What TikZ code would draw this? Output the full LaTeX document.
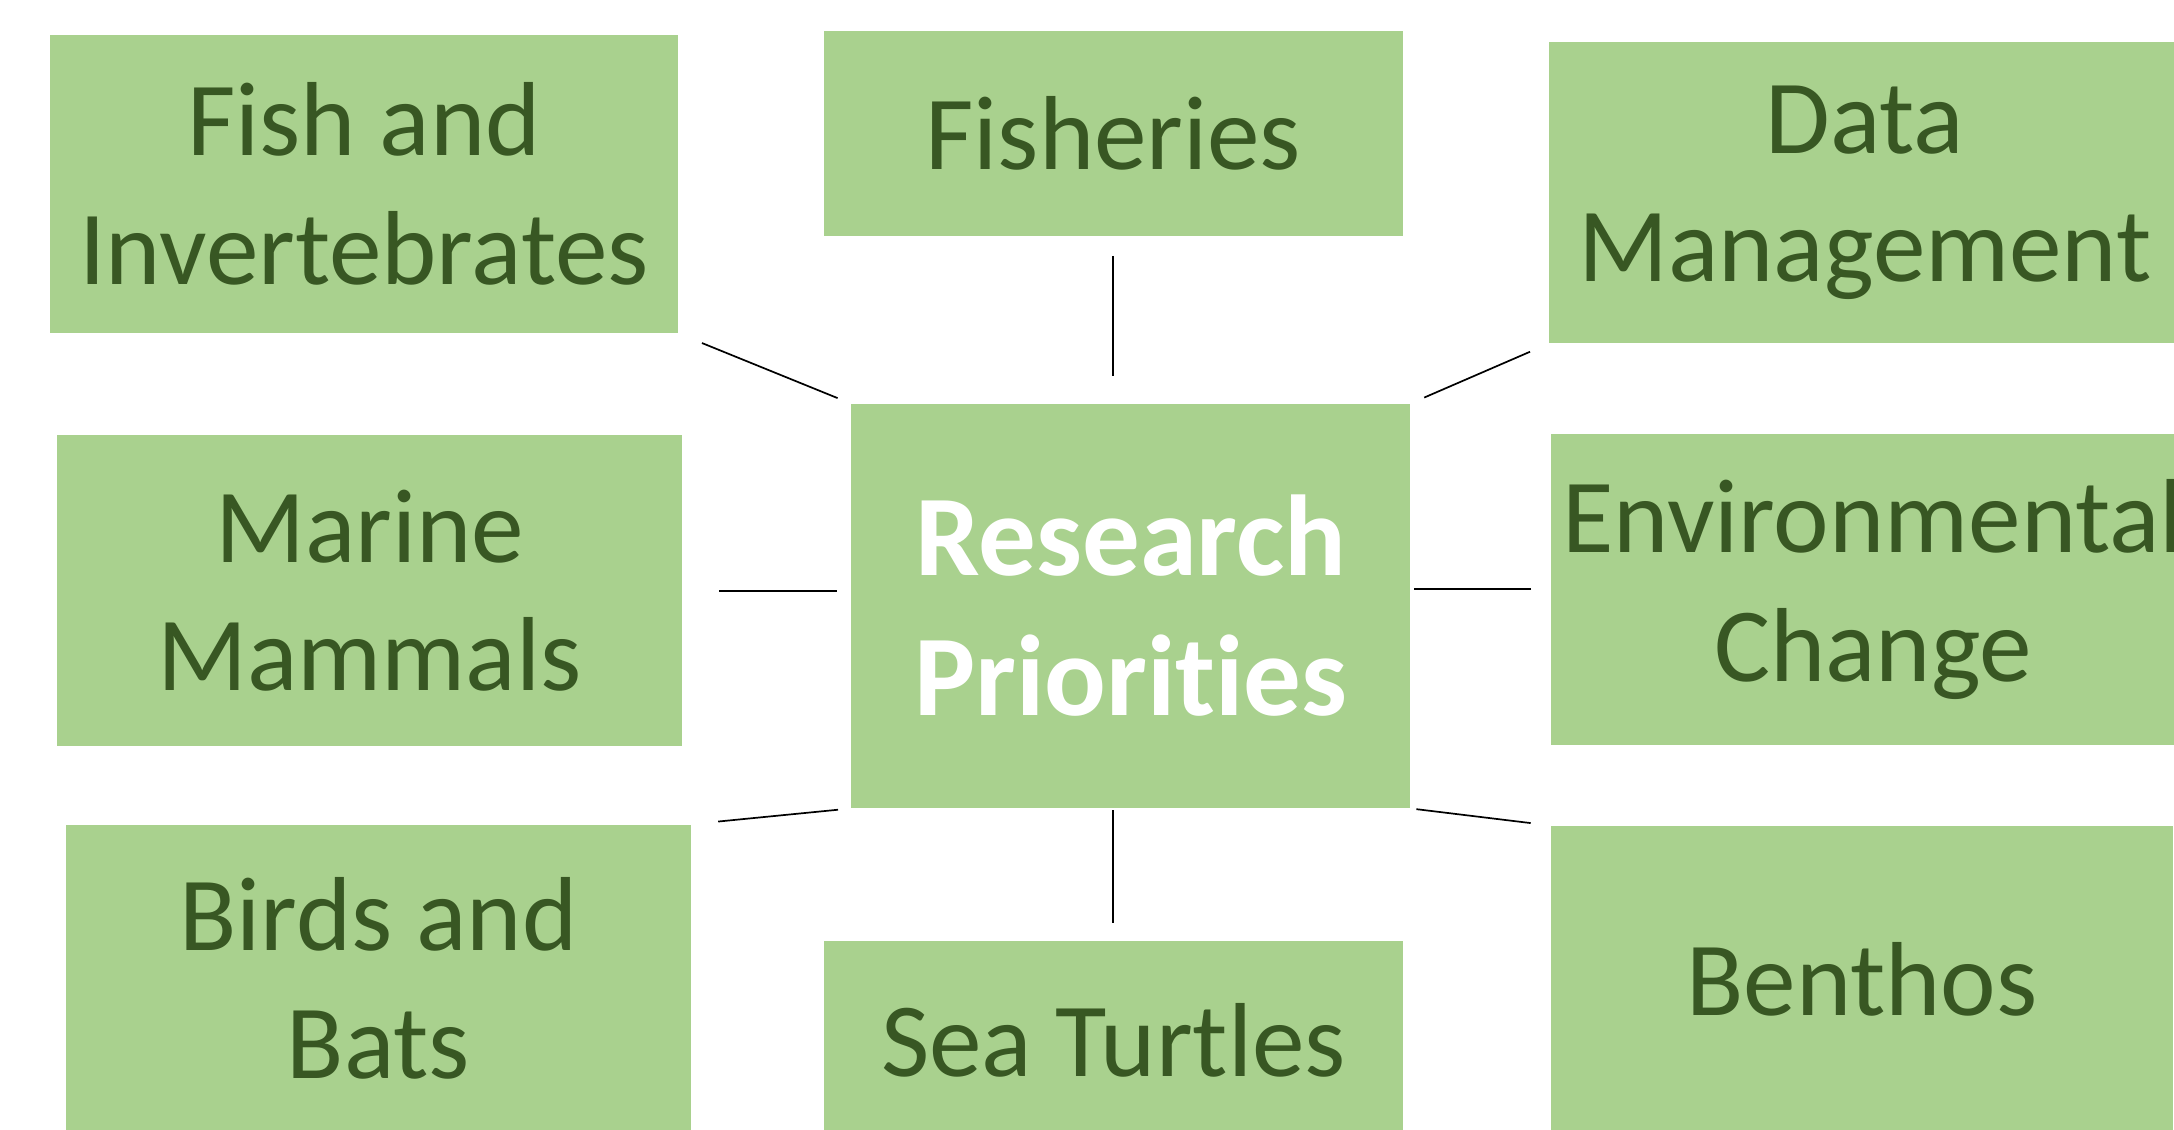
\documentclass[tikz,border=0pt]{standalone}
\usepackage{fontspec}
\setmainfont[Ligatures=NoCommon]{Carlito}
\definecolor{boxgreen}{HTML}{A9D18E}
\definecolor{textgreen}{HTML}{385723}

\begin{document}
\begin{tikzpicture}[x=0.1mm,y=-0.1mm,line width=0.35pt,
    topic/.style={fill=boxgreen,text=textgreen,align=center,inner sep=0pt,
      font=\fontsize{21.6}{26.4}\selectfont},
    hub/.style={topic,text=white,font=\bfseries\fontsize{23.6}{28.7}\selectfont},
    link/.style={draw=black}]
  \useasboundingbox (0,0) rectangle (1568,815);
  \clip (0,0) rectangle (1568,815);
  \node[hub,minimum width=40.3mm,minimum height=29.1mm](rp) at (815.5,437) {Research\\Priorities};
  \node[topic,minimum width=45.3mm,minimum height=21.5mm](fish) at (262.5,132.5) {Fish and\\Invertebrates};
  \node[topic,minimum width=41.8mm,minimum height=14.8mm](fisheries) at (803,96) {Fisheries};
  \node[topic,minimum width=45.6mm,minimum height=21.7mm](data) at (1345,139) {Data\\Management};
  \node[topic,minimum width=45.1mm,minimum height=22.4mm](marine) at (266.5,426) {Marine\\Mammals};
  \node[topic,minimum width=46.4mm,minimum height=22.4mm](env) at (1351,425) {Environmental\\Change};
  \node[topic,minimum width=45.1mm,minimum height=22.1mm](birds) at (273,705.5) {Birds and\\Bats};
  \node[topic,minimum width=41.8mm,minimum height=14.2mm](turtles) at (803,750) {Sea Turtles};
  \node[topic,minimum width=44.8mm,minimum height=22mm](benthos) at (1343,706) {Benthos};
  % spokes
  \draw[link,shorten <=1.8mm,shorten >=1mm] (fish.south east)--(rp.north west);
  \draw[link,shorten <=1.4mm,shorten >=2mm] (fisheries.south)--(fisheries.south |- rp.north);
  \draw[link,shorten <=1.4mm,shorten >=1.05mm] (data.south west)--(rp.north east);
  \draw[link,shorten <=2.6mm,shorten >=1mm] (marine.east)--(marine.east -| rp.west);
  \draw[link,shorten <=1.4mm,shorten >=0.25mm] (env.west)--(env.west -| rp.east);
  \draw[link,shorten <=1.9mm,shorten >=0.9mm] (birds.north east)--(rp.south west);
  \draw[link,shorten <=1.3mm,shorten >=0.1mm] (turtles.north)--(turtles.north |- rp.south);
  \draw[link,shorten <=1.45mm,shorten >=0.4mm] (benthos.north west)--(rp.south east);
\end{tikzpicture}
\end{document}
